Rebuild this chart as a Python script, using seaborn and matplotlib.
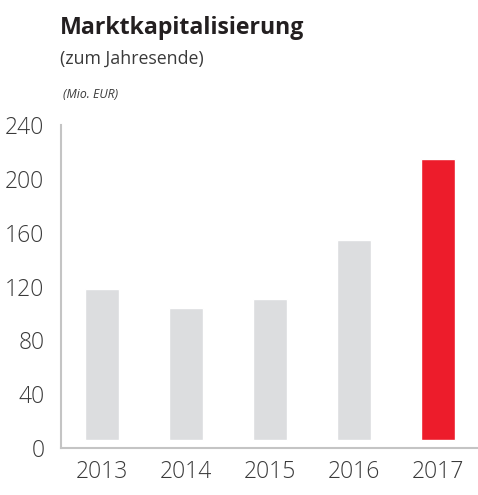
import matplotlib
matplotlib.use("Agg")
import matplotlib.pyplot as plt
import seaborn as sns
import pandas as pd

years = ["2013", "2014", "2015", "2016", "2017"]
market_cap = [118, 104, 111, 154.5, 214.5]
bar_colors = ["#DCDDDF", "#DCDDDF", "#DCDDDF", "#DCDDDF", "#ED1C2B"]
y_ticks = [0, 40, 80, 120, 160, 200, 240]

title = "Marktkapitalisierung"
subtitle = "(zum Jahresende)"
unit = "(Mio. EUR)"

sns.set_theme(style="white")
plt.rcParams["font.family"] = ["Open Sans", "DejaVu Sans"]

df = pd.DataFrame({"year": years, "value": market_cap})

fig = plt.figure(figsize=(4.78, 4.95), dpi=100)
ax = fig.add_axes([61 / 478, 47 / 495, 416 / 478, 323 / 495])

sns.barplot(data=df, x="year", y="value", hue="year", palette=bar_colors,
            legend=False, width=34 / 84, saturation=1, ax=ax)

# bars float slightly above the baseline in the reference
gap = 6
for p in ax.patches:
    h = p.get_height()
    p.set_y(gap)
    p.set_height(h - gap)

ax.set_ylim(0, 240)
ax.set_xlim(-0.49, 4.46)
ax.set_yticks(y_ticks)
ax.set_yticklabels([str(t) for t in y_ticks])
ax.set_xlabel("")
ax.set_ylabel("")

for s in ["top", "right"]:
    ax.spines[s].set_visible(False)
for s in ["left", "bottom"]:
    ax.spines[s].set_color("#C4C4C4")
    ax.spines[s].set_linewidth(1.5)

ax.tick_params(axis="y", length=0, pad=12, labelsize=16.5, labelcolor="#3A3A3A")
ax.tick_params(axis="x", length=0, pad=9, labelsize=16.5, labelcolor="#3A3A3A")
for lbl in ax.get_yticklabels() + ax.get_xticklabels():
    lbl.set_fontweight("light")

fig.text(60 / 478, 1 - 28 / 495, title, fontsize=16.7, fontweight="bold",
         color="#231F20", va="center", ha="left")
fig.text(60 / 478, 1 - 59 / 495, subtitle, fontsize=12.8, color="#3A3A3A",
         va="center", ha="left")
fig.text(63 / 478, 1 - 95 / 495, unit, fontsize=8.8, style="italic",
         color="#3A3A3A", va="center", ha="left")

fig.savefig("out.png", dpi=100)
